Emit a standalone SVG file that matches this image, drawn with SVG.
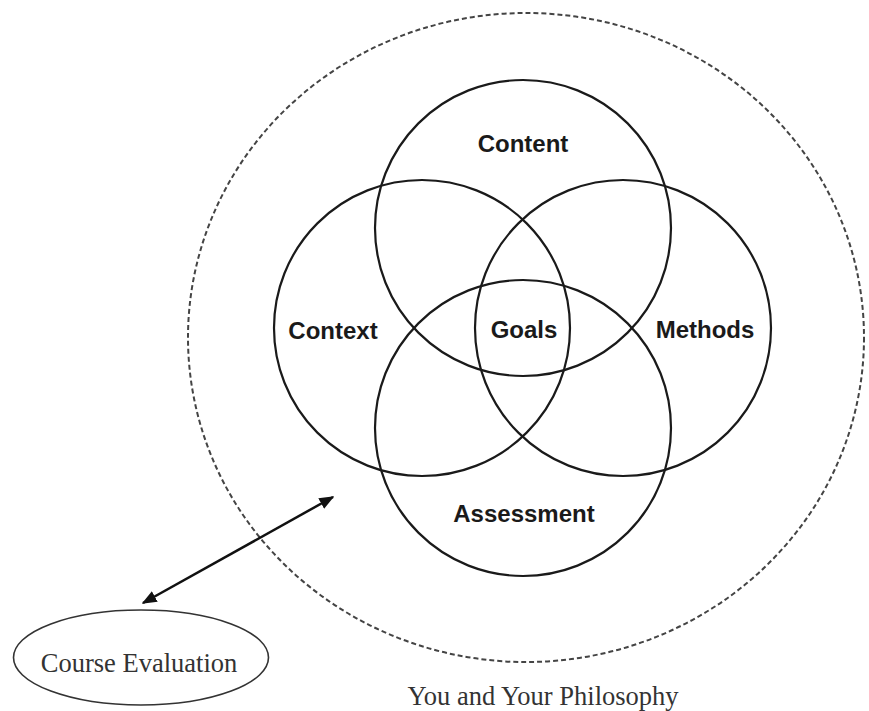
<svg xmlns="http://www.w3.org/2000/svg" width="869" height="711" viewBox="0 0 869 711">
<defs>
<style>
.c{fill:none;stroke:#1a1a1a;stroke-width:2.2}
.lbl{font-family:"Liberation Sans",Arial,sans-serif;font-weight:bold;font-size:24px;fill:#1a1a1a;text-anchor:middle}
.ser{font-family:"Liberation Serif","Times New Roman",serif;font-size:26.5px;fill:#333;text-anchor:middle}
</style>
<marker id="ah" viewBox="0 0 10 10" refX="9" refY="5" markerWidth="6" markerHeight="6" orient="auto-start-reverse" markerUnits="strokeWidth">
<path d="M0,1 L10,5 L0,9 z" fill="#111"/>
</marker>
</defs>
<rect width="869" height="711" fill="#fff"/>
<g id="philosophy">
<ellipse cx="526" cy="337.5" rx="338" ry="324.5" fill="none" stroke="#444" stroke-width="2" stroke-dasharray="5 3"/>
<text class="ser" x="543" y="705">You and Your Philosophy</text>
</g>
<g id="content"><circle class="c" cx="523" cy="228" r="148"/><text class="lbl" x="523" y="152">Content</text></g>
<g id="context"><circle class="c" cx="422" cy="328" r="148"/><text class="lbl" x="333" y="339">Context</text></g>
<g id="methods"><circle class="c" cx="623" cy="328" r="148"/><text class="lbl" x="705" y="338">Methods</text></g>
<g id="assessment"><circle class="c" cx="523" cy="428" r="148"/><text class="lbl" x="524" y="522">Assessment</text></g>
<g id="goals"><text class="lbl" x="524" y="338">Goals</text></g>
<g id="course-evaluation">
<ellipse cx="141" cy="657.5" rx="127.5" ry="47.5" fill="none" stroke="#333" stroke-width="1.6"/>
<text class="ser" x="139" y="672">Course Evaluation</text>
</g>
<g id="connectors">
<line x1="143" y1="603" x2="333" y2="497" stroke="#111" stroke-width="2.5" marker-start="url(#ah)" marker-end="url(#ah)"/>
</g>
</svg>
